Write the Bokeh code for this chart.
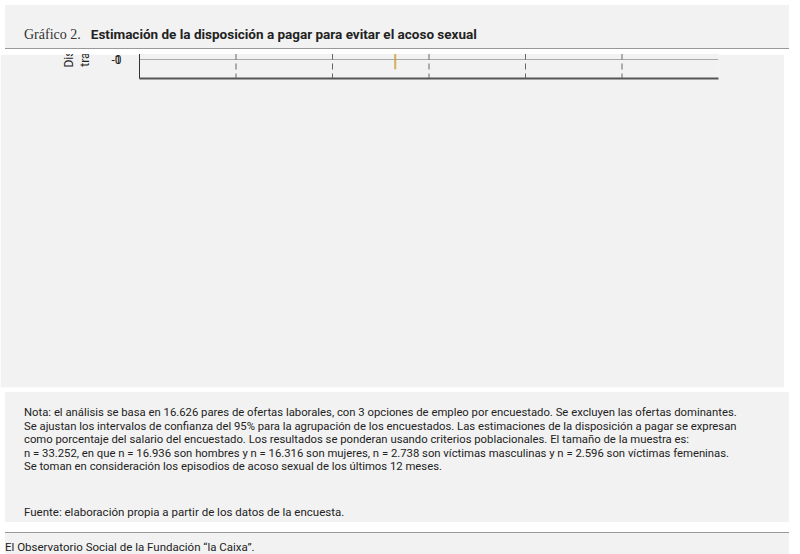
from bokeh.plotting import figure
from bokeh.models import Range1d, Span, Label, FixedTicker, Div, Legend, LegendItem
from bokeh.layouts import column
from bokeh.embed import file_html
from bokeh.resources import INLINE

groups = ["Mujeres", "Hombres", "Mujeres\nvíctimas de\nacoso", "Hombres\nvíctimas de\nacoso",
          "Mujeres NO\nvíctimas de\nacoso", "Hombres NO\nvíctimas de\nacoso"]
opp_est = [-1.67, -2.76, -1.37, -2.53, -1.90, -2.92]
opp_lo = [-2.33, -3.25, -2.39, -3.39, -2.63, -3.51]
opp_hi = [-1.04, -2.22, -0.37, -1.71, -1.06, -2.33]
same_est = [-3.92, -0.57, -8.59, -0.14, -2.57, -0.73]
same_lo = [-4.63, -1.33, -10.7, -1.82, -3.41, -1.55]
same_hi = [-3.08, 0.18, -6.61, 1.43, -1.76, 0.08]
yticks = [0, -2, -4, -6, -8, -10]
ytick_labels = {0: "0", -2: "-2", -4: "-4", -6: "-6", -8: "-8", -10: "-1"}

BG = "#f2f2f2"
BLUE = "#1d4f7c"
GOLD = "#c9962e"
FONT = "Roboto"

header = Div(text='<span style="font-family:\'Liberation Serif\';font-size:14px;color:#333">Gráfico 2.</span>'
             '&nbsp;&nbsp;&nbsp;<span style="font-family:Roboto;font-weight:bold;font-size:13.5px;color:#222">'
             'Estimación de la disposición a pagar para evitar el acoso sexual</span>',
             width=784, height=44,
             styles={"background": BG, "border-bottom": "1px solid #999", "padding": "20px 0 0 19px",
                     "box-sizing": "border-box"})

p = figure(width=784, height=333, output_backend="svg", toolbar_location=None,
           x_range=Range1d(0, 6), y_range=Range1d(-11.39, 4.5),
           min_border_left=139, min_border_right=66, min_border_top=24, min_border_bottom=47)
p.background_fill_color = BG
p.border_fill_color = BG
p.outline_line_color = None
p.xgrid.visible = False
p.ygrid.ticker = FixedTicker(ticks=[-2, -4, -6, -8, -10])
p.ygrid.grid_line_color = "#aaaaaa"
p.yaxis.ticker = FixedTicker(ticks=yticks)
p.yaxis.major_label_overrides = ytick_labels
p.yaxis.major_tick_line_color = None
p.yaxis.minor_tick_line_color = None
p.yaxis.axis_line_color = "#333333"
p.yaxis.major_label_text_font = FONT
p.yaxis.major_label_text_font_size = "12px"
p.yaxis.major_label_text_color = "#222"
p.yaxis.major_label_standoff = 12
p.yaxis.axis_label = "Disposición a pagar con tal de evitar\ntrabajos con riesgo de acoso sexual"
p.yaxis.axis_label_text_font = FONT
p.yaxis.axis_label_text_font_size = "12px"
p.yaxis.axis_label_text_font_style = "normal"
p.yaxis.axis_label_text_color = "#222"
p.yaxis.axis_label_standoff = 16
p.xaxis.ticker = FixedTicker(ticks=[])
p.xaxis.major_tick_line_color = None
p.xaxis.minor_tick_line_color = None
p.xaxis.axis_line_color = "#555555"
p.xaxis.axis_line_width = 2

p.add_layout(Span(location=0, dimension="width", line_color="#666", line_dash="6 4", line_width=1))
for i in range(1, 6):
    p.add_layout(Span(location=i, dimension="height", line_color="#666", line_dash="6 4", line_width=1))

xb = [i + 0.35 for i in range(6)]
xg = [i + 0.65 for i in range(6)]
p.segment(xb, opp_lo, xb, opp_hi, line_color=BLUE, line_width=2, line_alpha=0.75)
p.segment(xg, same_lo, xg, same_hi, line_color=GOLD, line_width=2, line_alpha=0.75)
rb = p.scatter(xb, opp_est, size=7, color=BLUE)
rg = p.scatter(xg, same_est, size=7, color=GOLD)

for i, g in enumerate(groups):
    p.add_layout(Label(x=i + 0.5, y=2.88, text=g, text_align="center", text_baseline="middle",
                       text_font=FONT, text_font_size="12.5px", text_color="#111",
                       text_line_height=1.15))

legend = Legend(items=[LegendItem(label="Víctima del sexo opuesto", renderers=[rb]),
                       LegendItem(label="Víctima del mismo sexo", renderers=[rg])],
                orientation="horizontal", location="top_left", background_fill_alpha=0,
                border_line_color=None, label_text_font=FONT, label_text_font_size="12.5px",
                glyph_width=14, label_standoff=4, spacing=14, padding=4, margin=12)
p.add_layout(legend, "below")

notes = ("Nota: el análisis se basa en 16.626 pares de ofertas laborales, con 3 opciones de empleo por encuestado. Se excluyen las ofertas dominantes.<br>"
         "Se ajustan los intervalos de confianza del 95% para la agrupación de los encuestados. Las estimaciones de la disposición a pagar se expresan<br>"
         "como porcentaje del salario del encuestado. Los resultados se ponderan usando criterios poblacionales. El tamaño de la muestra es:<br>"
         "n = 33.252, en que n = 16.936 son hombres y n = 16.316 son mujeres, n = 2.738 son víctimas masculinas y n = 2.596 son víctimas femeninas.<br>"
         "Se toman en consideración los episodios de acoso sexual de los últimos 12 meses.")
notes_div = Div(text='<div style="font-family:Roboto;font-size:11.3px;line-height:13.6px;color:#222">' + notes +
                '</div><div style="font-family:Roboto;font-size:11.5px;color:#222;margin-top:30px">'
                'Fuente: elaboración propia a partir de los datos de la encuesta.</div>',
                width=784, height=130,
                styles={"background": BG, "padding": "14px 0 0 19px", "box-sizing": "border-box"})

footer = Div(text='<div style="text-align:right;font-family:Roboto;font-size:11.5px;color:#222;padding-right:12px">'
             'El Observatorio Social de la Fundación “la Caixa”.</div>',
             width=784, height=31,
             styles={"background": BG, "border-top": "1px solid #999", "padding-top": "6px",
                     "box-sizing": "border-box"})

layout = column(header, p, notes_div, footer, spacing=0)
open("out.html", "w").write(file_html(layout, INLINE))
